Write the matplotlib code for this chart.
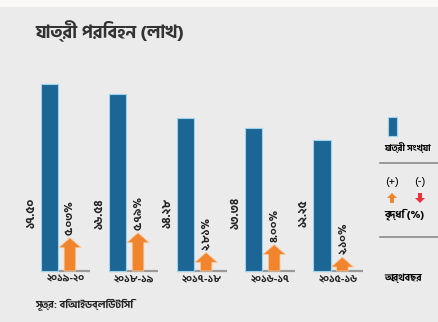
import matplotlib
matplotlib.use("Agg")
import matplotlib.pyplot as plt
from matplotlib.patches import Rectangle, FancyArrow

plt.rcParams['font.family'] = ['Hind Siliguri', 'DejaVu Sans']

# যাত্রী পরিবহন, অর্থবছর অনুযায়ী
years = ['২০১৯-২০', '২০১৮-১৯', '২০১৭-১৮', '২০১৬-১৭', '২০১৫-১৬']
passengers = [17.50, 16.54, 14.28, 13.34, 12.25]          # লাখ
passenger_labels = ['১৭.৫০', '১৬.৫৪', '১৪.২৮', '১৩.৩৪', '১২.২৫']
growth = [5.03, 5.79, 2.81, 4.00, 2.10]                    # %
growth_labels = ['৫.০৩%', '৫.৭৯%', '২.৮১%', '৪.০০%', '২.১০%']

title = 'যাত্রী পরিবহন (লাখ)'
source = 'সূত্র: বিআইডব্লিউটিসি'

BLUE = '#1c6695'
BLUE_EDGE = '#9fd3ec'
ORANGE = '#f0852d'
RED = '#e8323c'
BG = '#ebebeb'

W, H = 439, 322
fig = plt.figure(figsize=(W / 100, H / 100), dpi=100, facecolor=BG)

# bars: one unit per fiscal year, baseline 51 px above the bottom
px_x = 68.1
px_bar = 10.69
px_pct = 6.6
base = 51
x0 = -49.5 / px_x
xlim = (x0, x0 + W / px_x)

ax = fig.add_axes([0, 0, 1, 1])
ax.set_xlim(*xlim)
ax.set_ylim(-base / px_bar, (H - base) / px_bar)
ax.axis('off')

ax2 = fig.add_axes([0, 0, 1, 1])
ax2.set_xlim(*xlim)
ax2.set_ylim(-base / px_pct, (H - base) / px_pct)
ax2.axis('off')

# pixel overlay for decorations
ov = fig.add_axes([0, 0, 1, 1], zorder=-1)
ov.set_xlim(0, W)
ov.set_ylim(H, 0)
ov.axis('off')
ov.add_patch(Rectangle((0, 0), W, 7, color='#fbf8f8', lw=0))

xs = list(range(len(years)))
bw = 0.255
ax.bar(xs, passengers, width=bw, color=BLUE, edgecolor=BLUE_EDGE, linewidth=0.8, zorder=3)

for i in xs:
    ax.plot([i - bw / 2, i + 0.6], [0, 0], color='#9a9a9a', lw=1.6, zorder=2, solid_capstyle='butt')
    ax.text(i - 0.27, 5.4, passenger_labels[i], rotation=90, ha='center', va='center',
            fontsize=8.5, fontweight='bold', color='#222222')
    ax.text(i + 0.235, -0.35, years[i], ha='center', va='top', fontsize=7.5,
            fontweight='bold', color='#222222')

    ax_x = i + 0.30
    hl = 1.5
    ax2.add_patch(FancyArrow(ax_x, 0, 0, growth[i], width=0.17, head_width=0.33,
                             head_length=hl, length_includes_head=True,
                             color=ORANGE, ec='#f7c9a0', lw=0.6, zorder=3))
    ax2.annotate(growth_labels[i], (ax_x, growth[i]), xytext=(0, 2),
                 textcoords='offset points', rotation=90, ha='center', va='bottom',
                 fontsize=8, fontweight='bold', color='#222222')

# legend column
ov.add_patch(Rectangle((388, 117), 9, 19, color=BLUE, ec=BLUE_EDGE, lw=0.8))
ov.text(384, 148, 'যাত্রী সংখ্যা', ha='left', va='center', fontsize=6.5, fontweight='bold')
ov.plot([380, W], [163, 163], color='#8a8a8a', lw=1.2)
ov.text(392, 182, '(+)', ha='center', va='center', fontsize=8.5)
ov.text(420, 182, '(-)', ha='center', va='center', fontsize=8.5)
ov.add_patch(FancyArrow(392, 203, 0, -10, width=4, head_width=10, head_length=5,
                        length_includes_head=True, color=ORANGE, lw=0))
ov.add_patch(FancyArrow(420, 193, 0, 10, width=4, head_width=10, head_length=5,
                        length_includes_head=True, color=RED, lw=0))
ov.text(384, 214, 'বৃদ্ধি (%)', ha='left', va='center', fontsize=7.5, fontweight='bold')
ov.plot([380, W], [237, 237], color='#8a8a8a', lw=1.2)
ov.text(384, 278, 'অর্থবছর', ha='left', va='center', fontsize=7, fontweight='bold')

ov.text(35, 31, title, ha='left', va='center', fontsize=13, fontweight='bold', color='#333333')
ov.text(35, 305, source, ha='left', va='center', fontsize=7.5, fontweight='bold', color='#222222')

fig.savefig('out.png', dpi=100, facecolor=BG)
